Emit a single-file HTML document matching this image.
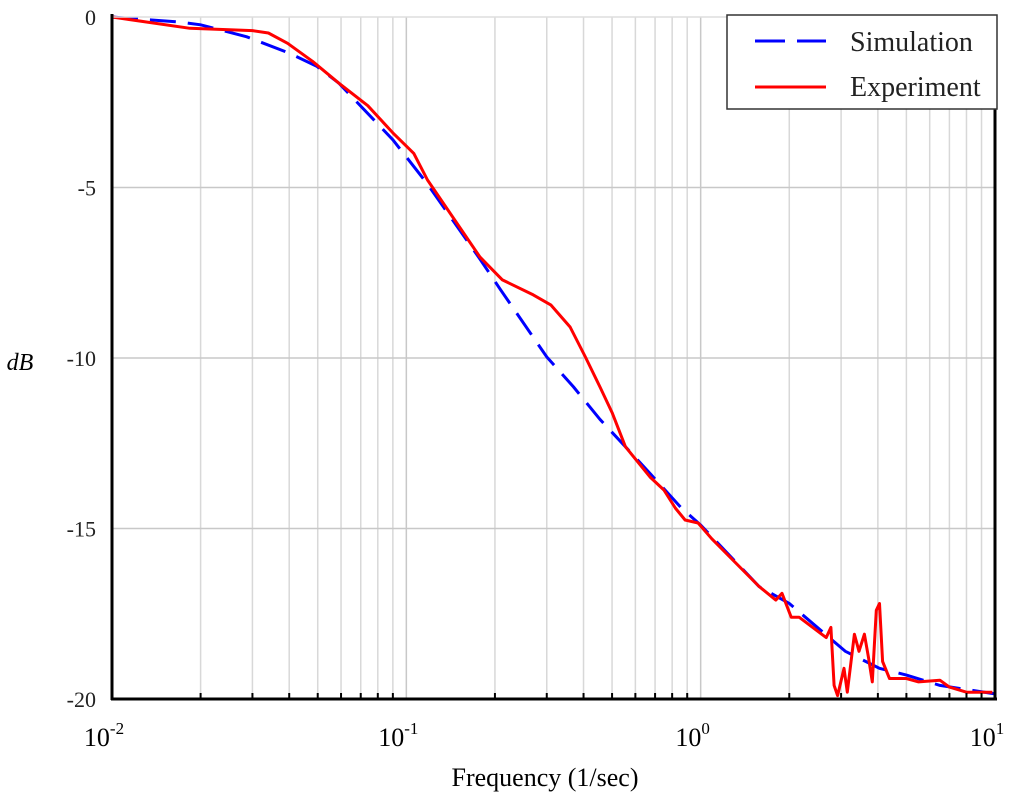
<!DOCTYPE html>
<html><head><meta charset="utf-8"><style>
html,body{margin:0;padding:0;background:#fff;}
svg{display:block;font-family:"Liberation Serif",serif;}
</style></head><body>
<svg id="chart" width="1024" height="802" viewBox="0 0 1024 802">
<g id="grid"></g>
<g id="series"></g>
<g id="axes"></g>
<g>
<rect x="727" y="15" width="270" height="94" fill="#fff" stroke="#333" stroke-width="1.5"/>
<line x1="755" y1="41" x2="826" y2="41" stroke="#0000ff" stroke-width="3" stroke-dasharray="30,12"/>
<text x="850" y="51" font-size="28" fill="#222">Simulation</text>
<line x1="755" y1="87" x2="826" y2="87" stroke="#ff0000" stroke-width="3"/>
<text x="850" y="96" font-size="28" fill="#222">Experiment</text>
</g>
<text x="20" y="370" font-size="24" font-style="italic" text-anchor="middle">dB</text>
<text x="545" y="786" font-size="26" text-anchor="middle">Frequency (1/sec)</text>
</svg>
<script>
const yTicks=[0,-5,-10,-15,-20];
const yTickLabels=["0","-5","-10","-15","-20"];
const xDecades=[-2,-1,0,1];
const simFreq=[0.01,0.017,0.02,0.0287,0.04,0.0497,0.059,0.09,0.118,0.178,0.209,0.3,0.37,0.455,0.555,0.675,0.86,1.0,1.58,2.0,3.1,4.05,5,6.5,10];
const simDb=[0,-0.15,-0.23,-0.58,-1.06,-1.45,-1.94,-3.6,-4.9,-7.1,-8.0,-9.97,-10.85,-11.8,-12.6,-13.4,-14.4,-14.9,-16.7,-17.2,-18.6,-19.1,-19.3,-19.6,-19.85];
const expFreq=[0.01,0.0184,0.03,0.034,0.0395,0.048,0.059,0.074,0.09,0.106,0.118,0.178,0.212,0.27,0.31,0.36,0.406,0.455,0.5,0.555,0.675,0.75,0.82,0.885,0.98,1.09,1.58,1.8,1.89,2.03,2.16,2.67,2.77,2.84,2.92,3.07,3.15,3.33,3.45,3.6,3.72,3.83,3.95,4.05,4.15,4.38,5.0,5.5,6.5,7.0,8.0,9.8];
const expDb=[0,-0.33,-0.4,-0.47,-0.77,-1.3,-1.94,-2.6,-3.4,-4.0,-4.78,-7.04,-7.71,-8.15,-8.45,-9.09,-9.97,-10.85,-11.6,-12.6,-13.5,-13.87,-14.4,-14.75,-14.84,-15.3,-16.7,-17.1,-16.9,-17.6,-17.6,-18.2,-17.9,-19.6,-19.9,-19.1,-19.8,-18.1,-18.6,-18.1,-18.8,-19.5,-17.4,-17.2,-18.9,-19.4,-19.4,-19.5,-19.45,-19.65,-19.8,-19.8];
const L=112,R=995,T=17,B=699;
const xs=f=>L+(Math.log10(f)+2)/3*(R-L);
const ys=v=>T+(0-v)/20*(B-T);
const NS="http://www.w3.org/2000/svg";
function mk(tag,attrs,parent){const e=document.createElementNS(NS,tag);for(const k in attrs)e.setAttribute(k,attrs[k]);parent.appendChild(e);return e;}
const grid=document.getElementById('grid'),axes=document.getElementById('axes'),series=document.getElementById('series');
for(let d=-2;d<1;d++){for(let m=2;m<=9;m++){const x=xs(m*Math.pow(10,d));
const g=mk('line',{x1:x,y1:T,x2:x,y2:B,stroke:'#d8d8d8','stroke-width':1.5},grid);


const t=mk('line',{x1:x,y1:B,x2:x,y2:B-6,stroke:'#000','stroke-width':2},axes);

}}
xDecades.forEach(d=>{const x=xs(Math.pow(10,d));
if(d>-2&&d<1){const g=mk('line',{x1:x,y1:T,x2:x,y2:B,stroke:'#c8c8c8','stroke-width':1.5},grid);

}
const tx=mk('text',{x:x-8,y:746,'font-size':26,'text-anchor':'middle'},axes);


tx.textContent='10';
const sp=mk('tspan',{dy:-12,'font-size':17},tx);sp.textContent=String(d);});
yTicks.forEach((v,i)=>{const y=ys(v);
if(v<0&&v>-20){const g=mk('line',{x1:L,y1:y,x2:R,y2:y,stroke:'#c8c8c8','stroke-width':1.5},grid);

}
const tl=mk('text',{x:96,y:y+8,'font-size':22,'text-anchor':'end',fill:'#222'},axes);


tl.textContent=yTickLabels[i];});
const topBorder=mk('line',{x1:L,y1:T,x2:R,y2:T,stroke:'#ddd','stroke-width':1.5},axes);


[[L,T-3,L,B+1],[L-1,B,R+2,B],[R,T+92,R,B+1]].forEach(a=>{const ln=mk('line',{x1:a[0],y1:a[1],x2:a[2],y2:a[3],stroke:'#000','stroke-width':3},axes);

});
function pts(fs,vs){return fs.map((f,i)=>xs(f).toFixed(1)+','+ys(vs[i]).toFixed(1)).join(' ');}
const sim=mk('polyline',{points:pts(simFreq,simDb),fill:'none',stroke:'#0000ff','stroke-width':3,'stroke-dasharray':'26,12'},series);


const ex=mk('polyline',{points:pts(expFreq,expDb),fill:'none',stroke:'#ff0000','stroke-width':3,'stroke-linejoin':'round'},series);


</script>
</body></html>
